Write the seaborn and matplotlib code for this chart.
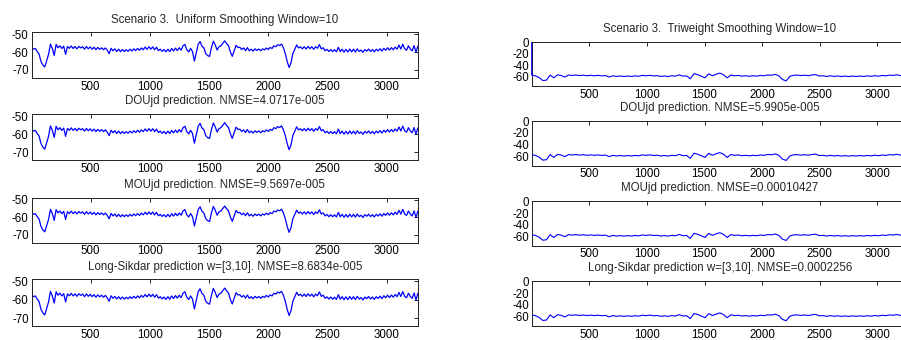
import matplotlib
matplotlib.use('Agg')
import matplotlib.pyplot as plt
import seaborn as sns

# uniform smoothed signal (left column), sampled every 16 points
uniform_x = list(range(0, 3265, 16))
uniform_signal = [
    -57.2, -58.3, -57.9, -59.6, -61.0, -65.2, -67.2, -68.3, -64.8, -61.2,
    -55.4, -57.9, -61.8, -55.6, -57.5, -56.4, -57.9, -56.6, -61.2, -56.8,
    -57.8, -56.5, -57.9, -56.8, -58.1, -56.7, -57.6, -56.9, -58.3, -56.8,
    -58.1, -57.0, -58.3, -57.2, -58.6, -57.3, -58.4, -57.5, -58.6, -57.6,
    -58.9, -60.8, -57.8, -59.2, -58.1, -59.6, -58.3, -59.7, -58.5, -59.6,
    -58.6, -59.5, -58.3, -59.3, -58.1, -59.1, -57.9, -58.9, -57.6, -58.6,
    -57.1, -58.4, -56.9, -58.3, -57.0, -58.6, -57.2, -59.1, -58.3, -59.5,
    -58.5, -59.8, -58.3, -59.7, -57.9, -59.3, -57.7, -59.1, -57.5, -58.8,
    -56.4, -55.6, -58.6, -59.8, -57.9, -59.6, -65.0, -60.2, -55.6, -54.0,
    -56.6, -57.5, -60.8, -61.9, -62.4, -57.5, -53.8, -55.9, -58.8, -56.9,
    -56.4, -55.0, -53.6, -55.1, -56.3, -59.8, -62.3, -59.2, -56.1, -57.4,
    -57.2, -58.5, -57.6, -59.1, -57.4, -59.2, -58.3, -59.4, -58.1, -59.0,
    -58.2, -59.2, -58.1, -58.7, -57.6, -58.5, -57.3, -57.9, -56.4, -56.9,
    -55.8, -56.3, -55.4, -57.5, -60.8, -65.2, -68.6, -66.0, -60.7, -58.4,
    -55.9, -57.6, -57.0, -58.1, -56.9, -58.2, -56.7, -58.0, -56.9, -58.4,
    -56.9, -57.8, -55.7, -58.1, -57.5, -59.2, -58.4, -59.6, -58.5, -59.7,
    -58.6, -59.8, -57.2, -59.7, -58.3, -60.0, -58.4, -59.9, -58.2, -59.8,
    -58.3, -59.9, -58.1, -59.6, -58.8, -60.1, -58.5, -59.4, -58.2, -59.6,
    -58.5, -59.8, -58.3, -59.3, -58.0, -59.4, -57.8, -58.9, -57.5, -58.8,
    -57.4, -58.6, -57.1, -58.3, -56.0, -58.2, -55.5, -58.0, -58.9, -56.4,
    -58.2, -59.2, -56.3, -60.0, -56.5,
]

# triweight smoothed signal (right column), sampled every 32 points
triweight_x = list(range(0, 3265, 32))
triweight_signal = [
    -57.0, -58.4, -61.2, -66.5, -65.8, -57.0, -61.8, -56.6, -57.8, -60.5,
    -56.9, -57.7, -57.0, -57.9, -57.2, -58.2, -57.4, -58.3, -57.5, -58.4,
    -57.8, -60.4, -58.2, -59.4, -58.5, -59.6, -58.6, -59.4, -58.4, -59.1,
    -57.5, -58.3, -57.4, -58.5, -58.0, -59.4, -58.6, -59.5, -58.2, -58.9,
    -56.6, -58.8, -58.4, -63.5, -54.6, -56.3, -59.0, -61.8, -54.8, -58.1,
    -55.6, -53.6, -56.4, -61.8, -56.9, -58.2, -57.6, -58.9, -58.2, -59.1,
    -58.2, -58.9, -57.6, -58.3, -56.8, -57.3, -55.8, -58.2, -64.8, -67.0,
    -59.3, -57.4, -57.1, -57.9, -57.2, -58.0, -56.8, -56.2, -58.6, -58.3,
    -59.4, -58.3, -59.3, -58.6, -59.5, -58.8, -59.6, -58.7, -59.5, -58.6,
    -59.4, -58.4, -59.2, -58.1, -58.9, -57.7, -58.3, -57.1, -57.6, -56.5,
    -57.9, -56.9, -58.4,
]
# the triweight smoothing starts from zero at the first sample
triweight_start_x = [0]
triweight_start = [0.0]

left_titles = [
    'Scenario 3.  Uniform Smoothing Window=10',
    'DOUjd prediction. NMSE=4.0717e-005',
    'MOUjd prediction. NMSE=9.5697e-005',
    'Long-Sikdar prediction w=[3,10]. NMSE=8.6834e-005',
]
right_titles = [
    'Scenario 3.  Triweight Smoothing Window=10',
    'DOUjd prediction. NMSE=5.9905e-005',
    'MOUjd prediction. NMSE=0.00010427',
    'Long-Sikdar prediction w=[3,10]. NMSE=0.0002256',
]
x_ticks = [500, 1000, 1500, 2000, 2500, 3000]
left_yticks = [-70, -60, -50]
right_yticks = [-60, -40, -20, 0]

sns.set_style('white')
plt.rcParams['font.family'] = ['Liberation Sans', 'DejaVu Sans']
plt.rcParams['axes.unicode_minus'] = False

W, H = 901, 340
fig = plt.figure(figsize=(W / 100, H / 100), dpi=100)


def add_panel(x0, x1, top, bottom):
    return fig.add_axes([x0 / W, 1 - bottom / H, (x1 - x0) / W, (bottom - top) / H])


def style_panel(ax, yticks, ylim, title):
    ax.set_xlim(0, 3265)
    ax.set_ylim(*ylim)
    ax.set_xticks(x_ticks)
    ax.set_yticks(yticks)
    ax.set_xlabel('')
    ax.set_ylabel('')
    ax.tick_params(direction='in', top=True, right=True, length=3, width=0.6,
                   labelsize=8.3, colors='black', pad=2)
    for s in ax.spines.values():
        s.set_color('#222222')
        s.set_linewidth(0.7)
    ax.set_title(title, fontsize=8.3, pad=7)


left_rows = [(32.3, 78), (114, 160.3), (197.7, 242.7), (279.3, 326.3)]
right_rows = [(41.7, 86), (120.7, 165.7), (201, 245.7), (281, 326)]

for i, (top, bottom) in enumerate(left_rows):
    ax = add_panel(31.5, 418, top, bottom)
    sns.lineplot(x=uniform_x, y=uniform_signal, ax=ax, color='blue',
                 linewidth=0.9, estimator=None, sort=False)
    style_panel(ax, left_yticks, (-74.5, -48.8), left_titles[i])

for i, (top, bottom) in enumerate(right_rows):
    ax = add_panel(531.7, 908, top, bottom)
    if i == 0:
        xs = triweight_start_x + triweight_x
        ys = triweight_start + triweight_signal
    else:
        xs, ys = triweight_x, triweight_signal
    sns.lineplot(x=xs, y=ys, ax=ax, color='blue', linewidth=0.8,
                 estimator=None, sort=False, zorder=3)
    if i == 0:
        # edge segment sits on the left spine, keep it fully visible
        ax.lines[0].set_clip_on(False)
    style_panel(ax, right_yticks, (-76, 1), right_titles[i])

fig.savefig('out.png', dpi=100, facecolor='white')
